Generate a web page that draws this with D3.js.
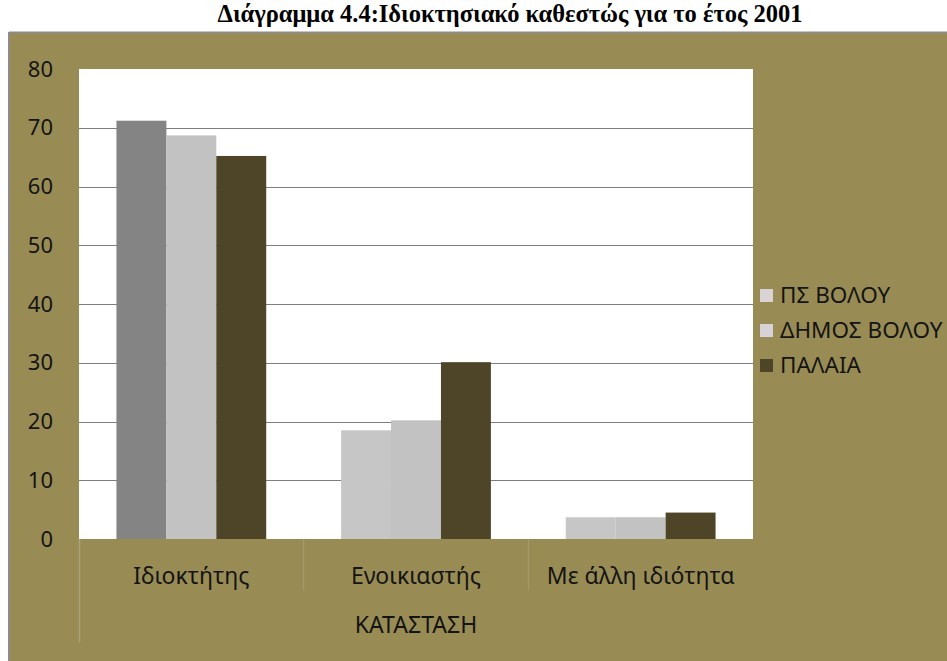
<!DOCTYPE html>
<html>
<head>
<meta charset="utf-8">
<script src="https://cdn.jsdelivr.net/npm/d3@7"></script>
<style>
  body { margin: 0; background: #fff; }
  svg { display: block; }
</style>
</head>
<body>
<svg id="chart" width="947" height="661"></svg>
<script>
// chart values
var categories = ['Ιδιοκτήτης', 'Ενοικιαστής', 'Με άλλη ιδιότητα'];
var seriesNames = ['ΠΣ ΒΟΛΟΥ', 'ΔΗΜΟΣ ΒΟΛΟΥ', 'ΠΑΛΑΙΑ'];
var psVolou = [71.2, 18.5, 3.7];
var dimosVolou = [68.7, 20.2, 3.7];
var palaia = [65.2, 30.1, 4.5];
var yTicks = [0, 10, 20, 30, 40, 50, 60, 70, 80];

var seriesValues = [psVolou, dimosVolou, palaia];
var colors = ['#c6c6c6', '#c2c2c2', '#4e4529'];
var legendColors = ['#d9d3d6', '#d6d2d8', '#4e4529'];

var svg = d3.select('#chart');
var font = '"Noto Sans", "Open Sans", sans-serif';

// title
svg.append('text')
  .attr('x', 510)
  .attr('y', 22)
  .attr('text-anchor', 'middle')
  .style('font-family', '"Liberation Serif", "Times New Roman", serif')
  .style('font-weight', 'bold')
  .style('font-size', '24.5px')
  .text('Διάγραμμα 4.4:Ιδιοκτησιακό καθεστώς για το έτος 2001');

// olive panel
svg.append('rect')
  .attr('x', 9).attr('y', 32)
  .attr('width', 938).attr('height', 629)
  .attr('fill', '#988c54');
svg.append('line')
  .attr('x1', 9).attr('x2', 947).attr('y1', 32.5).attr('y2', 32.5)
  .attr('stroke', '#8f8a86').attr('stroke-width', 2);
svg.append('line')
  .attr('x1', 9).attr('x2', 9).attr('y1', 32).attr('y2', 661)
  .attr('stroke', '#8f8a8c').attr('stroke-width', 2);

var plotLeft = 79, plotRight = 753, plotTop = 69, plotBottom = 539;

var x = d3.scaleBand()
  .domain(categories)
  .range([plotLeft, plotRight])
  .paddingInner(0)
  .paddingOuter(0);

var x1 = d3.scaleBand()
  .domain(d3.range(seriesNames.length))
  .range([0, x.bandwidth()])
  .paddingInner(0)
  .paddingOuter(0.75);

var y = d3.scaleLinear().domain([0, 80]).range([plotBottom, plotTop]);

// plot area
svg.append('rect')
  .attr('x', plotLeft).attr('y', plotTop)
  .attr('width', plotRight - plotLeft).attr('height', plotBottom - plotTop)
  .attr('fill', '#fff');

// gridlines
svg.append('g')
  .selectAll('line')
  .data(yTicks.filter(function(d) { return d > 0 && d < 80; }))
  .enter()
  .append('line')
  .attr('x1', plotLeft).attr('x2', plotRight)
  .attr('y1', function(d) { return Math.round(y(d)) + 0.5; })
  .attr('y2', function(d) { return Math.round(y(d)) + 0.5; })
  .attr('stroke', '#7d7d7d')
  .attr('stroke-width', 1);

// y axis labels
var yAxis = d3.axisLeft(y).tickValues(yTicks).tickSize(0).tickPadding(26);
var yg = svg.append('g')
  .attr('transform', 'translate(' + plotLeft + ',0)')
  .call(yAxis);
yg.select('.domain').remove();
yg.selectAll('text')
  .style('font-family', font)
  .style('font-size', '22px')
  .attr('fill', '#141414');

// category separators
svg.append('line')
  .attr('x1', plotLeft + 0.5).attr('x2', plotLeft + 0.5)
  .attr('y1', plotBottom).attr('y2', 642)
  .attr('stroke', '#aba27a').attr('stroke-width', 1.5);
svg.append('g')
  .selectAll('line')
  .data(categories.slice(1))
  .enter()
  .append('line')
  .attr('x1', function(d) { return x(d); })
  .attr('x2', function(d) { return x(d); })
  .attr('y1', plotBottom).attr('y2', 590)
  .attr('stroke', '#a69d72').attr('stroke-width', 1);

// bars
var groups = svg.append('g')
  .selectAll('g')
  .data(categories)
  .enter()
  .append('g')
  .attr('transform', function(d) { return 'translate(' + x(d) + ',0)'; });

groups.selectAll('rect')
  .data(function(d, i) {
    return seriesValues.map(function(vals, s) { return {s: s, c: i, v: vals[i]}; });
  })
  .enter()
  .append('rect')
  .attr('x', function(d) { return x1(d.s); })
  .attr('y', function(d) { return y(d.v); })
  .attr('width', x1.bandwidth())
  .attr('height', function(d) { return plotBottom - y(d.v); })
  .attr('fill', function(d) {
    if (d.s === 0 && d.c === 0) return '#848484';
    return colors[d.s];
  });

// category labels
svg.append('g')
  .selectAll('text')
  .data(categories)
  .enter()
  .append('text')
  .attr('x', function(d) { return x(d) + x.bandwidth() / 2; })
  .attr('y', 584)
  .attr('text-anchor', 'middle')
  .style('font-family', font)
  .style('font-size', '23px')
  .attr('fill', '#141414')
  .text(function(d) { return d; });

// axis title
svg.append('text')
  .attr('x', x(categories[1]) + x.bandwidth() / 2)
  .attr('y', 633)
  .attr('text-anchor', 'middle')
  .style('font-family', font)
  .style('font-size', '23px')
  .attr('fill', '#141414')
  .text('ΚΑΤΑΣΤΑΣΗ');

// legend
var legend = svg.append('g')
  .selectAll('g')
  .data(seriesNames)
  .enter()
  .append('g')
  .attr('transform', function(d, i) { return 'translate(760,' + (295 + i * 35) + ')'; });
legend.append('rect')
  .attr('x', 0).attr('y', -6)
  .attr('width', 13).attr('height', 13)
  .attr('fill', function(d, i) { return legendColors[i]; });
legend.append('text')
  .attr('x', 20).attr('y', 8)
  .style('font-family', font)
  .style('font-size', '22.5px')
  .attr('fill', '#141414')
  .text(function(d) { return d; });
</script>
</body>
</html>
